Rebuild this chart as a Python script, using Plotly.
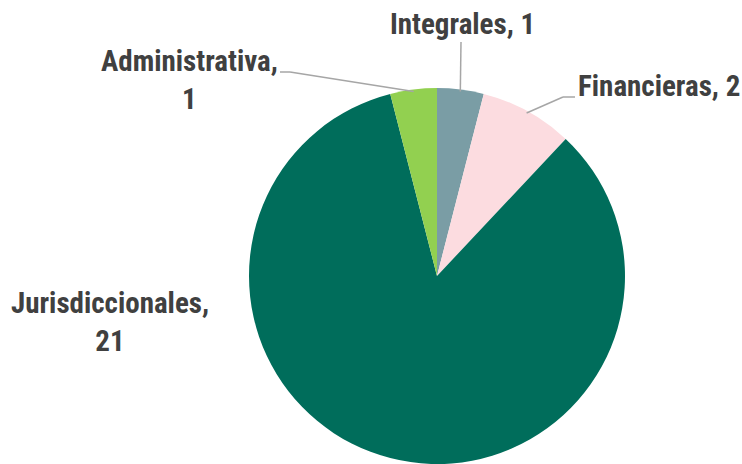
import math
import plotly.graph_objects as go

# Slice data (clockwise from 12 o'clock)
categories = ["Integrales", "Financieras", "Jurisdiccionales", "Administrativa"]
counts = [1, 2, 21, 1]
colors = ["#7A9DA5", "#FCDCE0", "#006D5B", "#92D050"]

W, H = 742, 464
cx_px, cy_px, r_px = 437, 276, 188

fig = go.Figure(go.Pie(
    labels=categories,
    values=counts,
    sort=False,
    direction="clockwise",
    rotation=0,
    marker=dict(colors=colors, line=dict(width=0)),
    textinfo="none",
    hoverinfo="label+value",
    domain=dict(x=[(cx_px - r_px) / W, (cx_px + r_px) / W],
                y=[1 - (cy_px + r_px) / H, 1 - (cy_px - r_px) / H]),
))

font = dict(family="Liberation Sans Narrow, Arial Narrow, Roboto Condensed, sans-serif",
            size=29, color="#404040")


def px(x, y):
    return x / W, 1 - y / H


def edge_point(idx, extra=0):
    total = sum(counts)
    start = sum(counts[:idx]) / total * 360
    mid = math.radians(start + counts[idx] / total * 360 / 2)
    rr = r_px + extra
    return cx_px + rr * math.sin(mid), cy_px - rr * math.cos(mid)


# label text, anchor (px), leader line path points after the slice edge
labels = [
    (f"{categories[0]}, {counts[0]}", (462, 24), [(461, 42)]),
    (f"{categories[1]}, {counts[1]}", (659, 86), [(563, 97), (575, 97)]),
    (f"{categories[2]},<br>{counts[2]}", (110, 322), []),
    (f"{categories[3]},<br>{counts[3]}", (189, 80), [(290, 72), (280, 72)]),
]

shapes = []
annotations = []
for i, (txt, (ax, ay), pts) in enumerate(labels):
    xa, ya = px(ax, ay)
    annotations.append(dict(text=f"<b>{txt}</b>", x=xa, y=ya, xref="paper", yref="paper",
                            showarrow=False, xanchor="center", yanchor="middle",
                            font=font, align="center"))
    if pts:
        seq = [edge_point(i, -2)] + pts
        for (x0, y0), (x1, y1) in zip(seq[:-1], seq[1:]):
            p0, p1 = px(x0, y0), px(x1, y1)
            shapes.append(dict(type="line", xref="paper", yref="paper",
                               x0=p0[0], y0=p0[1], x1=p1[0], y1=p1[1],
                               line=dict(color="#A6A6A6", width=1.5)))

fig.update_layout(
    width=W, height=H,
    margin=dict(l=0, r=0, t=0, b=0),
    paper_bgcolor="white",
    plot_bgcolor="white",
    showlegend=False,
    annotations=annotations,
    shapes=shapes,
)

fig.write_html("out.html")
